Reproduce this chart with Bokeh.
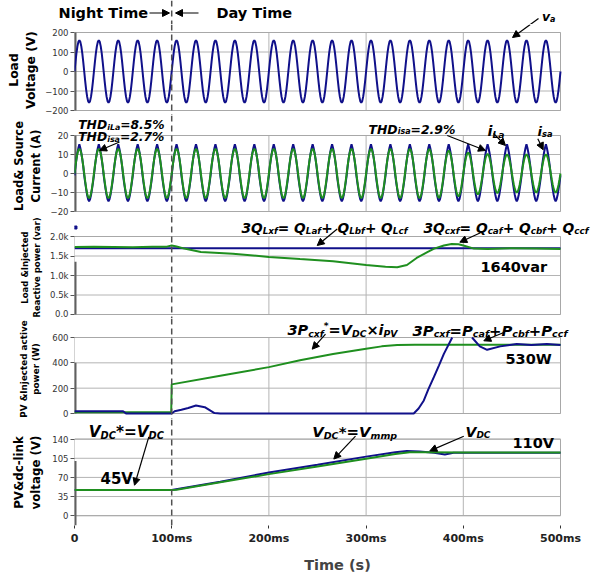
import numpy as np
from bokeh.plotting import figure
from bokeh.layouts import column
from bokeh.models import Range1d, FixedTicker, Span, Arrow, NormalHead, Label
from bokeh.embed import file_html
from bokeh.resources import INLINE

# ---------------- data ----------------
N_CYCLES = 25                    # 50 Hz over 0..500 ms
CYCLE_MS = 20
# one period of the load voltage v_a, 1 ms steps
VA_CYCLE = [0, 49, 94, 129, 152, 160, 152, 129, 94, 49,
            0, -49, -94, -129, -152, -160, -152, -129, -94, -49]
# one period of the load current i_La (peaky), 1 ms steps
ILA_CYCLE = [-1, 3.8, 7.6, 10.8, 13.4, 15.4, 13.4, 10.8, 7.6, 3.8,
             -1, -4.8, -8.2, -11.3, -13.6, -14.6, -13.6, -11.3, -8.2, -4.8]
# normalised period of the source current i_sa and its peak per cycle
ISA_SHAPE = [0, 0.31, 0.59, 0.81, 0.95, 1.0, 0.95, 0.81, 0.59, 0.31,
             0, -0.31, -0.59, -0.81, -0.95, -1.0, -0.95, -0.81, -0.59, -0.31]
ISA_PEAK = [13, 13, 13, 13, 13, 13, 13, 13, 13, 13, 13, 13, 13, 13, 13, 13,
            13, 13, 12.8, 12, 11, 10.3, 10, 10, 10]

# reactive power (var)
QL_T = [0, 500]
QL = [1700, 1700]
QL_SPIKE_T = [1]
QL_SPIKE = [2230]
QC_T = [0, 20, 40, 60, 80, 95, 100, 105, 113, 130, 163, 200, 232, 266, 300,
        320, 332, 342, 352, 363, 370, 380, 388, 395, 400, 411, 425, 450, 475, 500]
QC = [1730, 1735, 1728, 1722, 1735, 1740, 1770, 1745, 1690, 1600, 1560, 1475,
      1420, 1365, 1270, 1225, 1210, 1270, 1450, 1600, 1690, 1770, 1810, 1800,
      1770, 1690, 1680, 1700, 1690, 1680]

# active power (W)
PREF_T = [0, 99.5, 100, 150, 200, 232, 266, 300, 316, 332, 350, 400, 500]
PREF = [10, 10, 230, 298, 366, 420, 470, 511, 530, 540, 543, 543, 543]
PINJ_T = [0, 50, 53, 100, 103, 110, 117, 125, 134, 144, 150, 349, 354, 359.4,
          364, 369.7, 375, 380, 388.6, 398, 409, 417, 424.5, 438, 455, 470, 486, 500]
PINJ = [18, 18, 0, 0, 18, 30, 44, 63, 50, 3, 0, 0, 40, 103, 190, 287, 380, 471,
        600, float("nan"), 600, 530, 503, 530, 548, 540, 548, 540]

# dc-link voltage (V)
VREF_T = [0, 100, 150, 200, 250, 300, 330, 342, 355, 370, 381, 390, 400, 450, 500]
VREF = [47, 47, 62, 79, 93, 108, 116, 118.5, 117.5, 115, 112, 115, 115, 115, 115]
VDC_T = [0, 100, 105, 150, 200, 250, 300, 330, 345, 360, 400, 450, 500]
VDC = [47, 47, 47.5, 61, 76, 90, 104, 113, 116, 116, 115.5, 115.5, 115.5]

X_TICKS = [0, 100, 200, 300, 400, 500]
X_TICK_LABELS = ["0", "100ms", "200ms", "300ms", "400ms", "500ms"]
X_GRID = [200, 300, 400]

PANEL_LO = [-200, -20, 0, 0, 0]
PANEL_HI = [200, 20, 2000, 600, 140]
Y_TICKS = [[-200, -100, 0, 100, 200], [-20, -10, 0, 10, 20],
           [0, 500, 1000, 1500, 2000], [0, 200, 400, 600], [0, 35, 70, 105, 140]]
Y_TICK_LABELS = [None, None, ["0.0", "0.5k", "1.0k", "1.5k", "2.0k"], None, None]
Y_LABELS = ["Load\nVoltage (V)", "Load& Source\nCurrent (A)",
            "Load &Injected\nReactive power (var)", "PV &Injected active\npower (W)",
            "PV&dc-link\nvoltage (V)"]

# ---------------- layout ----------------
W = 605
LEFT, RIGHT_FRAME = 74, 600
X0_PX, X500_PX = 74, 560
HEADER_H = 24
FRAME_TOP = [HEADER_H, 115, 216, 318, 419]
FRAME_BOT = [115, 216, 318, 419, 527]
PANEL_TOP_PX = [32, 135, 236, 337, 439]
PANEL_BOT_PX = [110, 211, 314, 413, 517]
LABEL_CENTER_PX = [71, 166, 267, 368.5, 483]   # where each y-axis title is centred
LABEL_SIZE = ["12.3px", "11.5px", "8.5px", "8.8px", "11.8px"]
LABEL_STANDOFF = [4, 5, 5, 8, 6]
AXIS_DARK = [(-200, 200), (-20, 20), (0, 1350), (0, 400), (-18, 100)]
BOTTOM_AXIS = 48

BLUE = "#10108a"
GREEN = "#1f8f1f"
GRID = "#b4b4b4"
FONT = "DejaVu Sans"

MS_PER_PX = 500 / (X500_PX - X0_PX)
x_range = Range1d(0, (RIGHT_FRAME - LEFT) * MS_PER_PX)
dash = dict(location=100, dimension="height", line_color="#505050",
            line_dash="6 4", line_width=1.5)

# header strip (full-width frame so its texts are not clipped)
header = figure(width=W, height=HEADER_H, output_backend="svg", toolbar_location=None,
                x_range=Range1d(-X0_PX * MS_PER_PX, (W - X0_PX) * MS_PER_PX),
                y_range=Range1d(0, HEADER_H), x_axis_location=None, y_axis_location=None,
                min_border=0)
header.frame_align = False
header.outline_line_color = None
header.grid.visible = False
header.add_layout(Span(**dash))

figs = []
yr = []
for i in range(5):
    s = (PANEL_HI[i] - PANEL_LO[i]) / (PANEL_BOT_PX[i] - PANEL_TOP_PX[i])
    y0 = PANEL_LO[i] - (FRAME_BOT[i] - PANEL_BOT_PX[i]) * s
    y1 = PANEL_HI[i] + (PANEL_TOP_PX[i] - FRAME_TOP[i]) * s
    yr.append((y0, y1))
    h = FRAME_BOT[i] - FRAME_TOP[i] + (BOTTOM_AXIS if i == 4 else 0)
    p = figure(width=W, height=h, x_range=x_range, y_range=Range1d(y0, y1),
               output_backend="svg", toolbar_location=None,
               x_axis_location=("below" if i == 4 else None),
               min_border_left=LEFT, min_border_right=W - RIGHT_FRAME,
               min_border_top=0, min_border_bottom=(BOTTOM_AXIS if i == 4 else 0))
    p.outline_line_color = None
    p.grid.visible = False
    p.background_fill_color = "white"
    p.border_fill_color = "white"
    ya = p.yaxis[0]
    ya.ticker = FixedTicker(ticks=Y_TICKS[i])
    if Y_TICK_LABELS[i]:
        ya.major_label_overrides = {t: l for t, l in zip(Y_TICKS[i], Y_TICK_LABELS[i])}
    # axis extent chosen so that the axis title is centred where the reference has it
    half = min(LABEL_CENTER_PX[i] - FRAME_TOP[i], FRAME_BOT[i] - LABEL_CENTER_PX[i])
    b_top = y1 - (LABEL_CENTER_PX[i] - half - FRAME_TOP[i]) * s
    b_bot = y1 - (LABEL_CENTER_PX[i] + half - FRAME_TOP[i]) * s
    ya.bounds = (min(b_bot, PANEL_LO[i]), max(b_top, PANEL_HI[i]))
    ya.axis_line_color = None
    ya.minor_tick_line_color = None
    ya.major_tick_out = 4
    ya.major_tick_in = 0
    ya.major_tick_line_color = "#555555"
    ya.major_label_standoff = 2
    ya.major_label_text_font = FONT
    ya.major_label_text_font_size = "8.5px"
    ya.major_label_text_color = "#333333"
    ya.axis_label = Y_LABELS[i]
    ya.axis_label_text_font = FONT
    ya.axis_label_text_font_style = "bold"
    ya.axis_label_text_font_size = LABEL_SIZE[i]
    ya.axis_label_text_color = "black"
    ya.axis_label_standoff = LABEL_STANDOFF[i]
    # grid lines and panel frame
    p.segment(x0=[0] * len(Y_TICKS[i]), x1=[500] * len(Y_TICKS[i]),
              y0=Y_TICKS[i], y1=Y_TICKS[i], line_color=GRID, line_width=1)
    p.segment(x0=X_GRID, x1=X_GRID, y0=[PANEL_LO[i]] * len(X_GRID),
              y1=[PANEL_HI[i]] * len(X_GRID), line_color=GRID, line_width=1)
    p.quad(left=[0], right=[500], bottom=[PANEL_LO[i]], top=[PANEL_HI[i]],
           fill_color=None, line_color="#a8a8a8", line_width=1)
    lo, hi = AXIS_DARK[i]
    p.segment(x0=[0], x1=[0], y0=[lo], y1=[hi], line_color="#606060", line_width=4)
    p.add_layout(Span(**dash))
    figs.append(p)

xa = figs[4].xaxis[0]
xa.ticker = FixedTicker(ticks=X_TICKS)
xa.major_label_overrides = {t: l for t, l in zip(X_TICKS, X_TICK_LABELS)}
xa.bounds = (0, 500)
xa.axis_line_color = None
xa.minor_tick_line_color = None
xa.major_tick_out = 3
xa.major_tick_in = 0
xa.major_tick_line_color = "#333333"
xa.major_label_standoff = 3
xa.major_label_text_font = FONT
xa.major_label_text_font_style = "bold"
xa.major_label_text_font_size = "11px"
xa.major_label_text_color = "#222222"
xa.axis_label = "Time (s)"
xa.axis_label_text_font = FONT
xa.axis_label_text_font_style = "bold"
xa.axis_label_text_font_size = "14.5px"
xa.axis_label_standoff = 9

# ---------------- series ----------------
t_wave = np.arange(N_CYCLES * CYCLE_MS + 1)
va = np.array(VA_CYCLE * N_CYCLES + VA_CYCLE[:1], dtype=float)
ila = np.array(ILA_CYCLE * N_CYCLES + ILA_CYCLE[:1], dtype=float)
isa = np.concatenate([np.array(ISA_SHAPE) * pk for pk in ISA_PEAK] + [np.array([0.0])])

figs[0].line(t_wave, va, line_color=BLUE, line_width=2)
figs[1].line(t_wave, ila, line_color=BLUE, line_width=2)
figs[1].line(t_wave, isa, line_color=GREEN, line_width=2)
figs[2].line(QL_T, QL, line_color=BLUE, line_width=2)
figs[2].scatter(QL_SPIKE_T, QL_SPIKE, marker="square", size=3, color=BLUE)
figs[2].line(QC_T, QC, line_color=GREEN, line_width=2)
figs[3].line(PREF_T, PREF, line_color=GREEN, line_width=2)
figs[3].line(PINJ_T, PINJ, line_color=BLUE, line_width=2)
figs[4].line(VREF_T, VREF, line_color=BLUE, line_width=2)
figs[4].line(VDC_T, VDC, line_color=GREEN, line_width=2)

# ---------------- annotations ----------------
def target(i):
    return header if i < 0 else figs[i]

def to_data(i, xp, yp):
    xd = (xp - X0_PX) * MS_PER_PX
    if i < 0:
        return xd, HEADER_H - yp
    y0, y1 = yr[i]
    yd = y1 - (yp - FRAME_TOP[i]) * (y1 - y0) / (FRAME_BOT[i] - FRAME_TOP[i])
    return xd, yd

WIDTHS = {"0": .696, "1": .696, "2": .696, "3": .696, "4": .696, "5": .696, "6": .696,
          "7": .696, "8": .696, "9": .696, "Q": .850, "L": .637, "x": .645, "f": .435,
          "=": .838, "+": .838, "a": .675, "b": .716, "c": .593, "P": .733, "*": .523,
          "V": .774, "D": .830, "C": .734, "×": .838, "i": .343, "p": .716, "m": 1.042,
          "T": .682, "H": .837, "%": 1.002, ".": .380, "s": .595, "W": 1.103,
          "r": .493, "v": .652, " ": .348}

def tw(s, size):
    return sum(WIDTHS.get(c, .65) for c in s) * size

SUB = 0.64

def rich(i, x_left, base, width, segs):
    natural = sum(tw(t, SUB if k != "n" else 1.0) for t, k in segs)
    size = width / natural
    x = x_left
    for t, k in segs:
        fs = size * (SUB if k != "n" else 1.0)
        dy = 0.22 * size if k == "sub" else (-0.3 * size if k == "sup" else 0)
        xd, yd = to_data(i, x, base + dy)
        target(i).add_layout(Label(x=xd, y=yd, text=t, text_font=FONT,
                                   text_font_style="bold italic", text_font_size=f"{fs:.1f}px",
                                   text_baseline="alphabetic", text_align="left",
                                   text_color="black"))
        x += tw(t, fs)

def plain(i, x_left, mid, size, t):
    xd, yd = to_data(i, x_left, mid)
    target(i).add_layout(Label(x=xd, y=yd, text=t, text_font=FONT, text_font_style="bold",
                               text_font_size=size, text_baseline="middle",
                               text_align="left", text_color="black"))

def arrow(i, xs, ys, xe, ye, head=True):
    a0, b0 = to_data(i, xs, ys)
    a1, b1 = to_data(i, xe, ye)
    end = NormalHead(size=7, fill_color="black", line_color="black", line_width=1) if head else None
    target(i).add_layout(Arrow(end=end, x_start=a0, y_start=b0, x_end=a1, y_end=b1,
                               line_color="black", line_width=1.2))

plain(-1, 58, 12.5, "14.5px", "Night Time")
plain(-1, 216, 12.5, "14.5px", "Day Time")
arrow(-1, 149, 12.5, 169, 12.5)
arrow(-1, 198, 12.5, 175, 12.5)
rich(-1, 541.5, 16, 13.5, [("v", "n"), ("a", "sub")])
arrow(-1, 538, 18, 529.8, 24, head=False)
arrow(0, 529.8, 24, 512, 37)

rich(1, 77.7, 124, 86.6, [("THD", "n"), ("iLa", "sub"), ("=8.5%", "n")])
rich(1, 77.7, 136.5, 86.3, [("THD", "n"), ("isa", "sub"), ("=2.7%", "n")])
arrow(1, 119, 141.5, 99, 150)
rich(1, 368, 128.5, 87, [("THD", "n"), ("isa", "sub"), ("=2.9%", "n")])
arrow(1, 446.7, 135, 485, 150)
rich(1, 487, 130.5, 17, [("i", "n"), ("La", "sub")])
arrow(1, 493, 133, 505, 145)
rich(1, 537, 130.5, 15, [("i", "n"), ("sa", "sub")])
arrow(1, 537.3, 138.3, 542.7, 149.3)

rich(2, 241, 227, 166, [("3Q", "n"), ("Lxf", "sub"), ("= Q", "n"), ("Laf", "sub"),
                        ("+ Q", "n"), ("Lbf", "sub"), ("+ Q", "n"), ("Lcf", "sub")])
arrow(2, 336.7, 228.5, 316.7, 245)
rich(2, 423, 227, 165, [("3Q", "n"), ("cxf", "sub"), ("= Q", "n"), ("caf", "sub"),
                        ("+ Q", "n"), ("cbf", "sub"), ("+ Q", "n"), ("ccf", "sub")])
arrow(2, 480, 232.3, 459.3, 241.7)
plain(2, 480, 266.7, "14.5px", "1640var")

rich(3, 287, 329.5, 110, [("3P", "n"), ("cxf", "sub"), ("*", "sup"), ("=V", "n"),
                          ("DC", "sub"), ("×i", "n"), ("PV", "sub")])
arrow(3, 325, 333.7, 311.7, 348.7)
rich(3, 412, 329.5, 155, [("3P", "n"), ("cxf", "sub"), ("=P", "n"), ("caf", "sub"),
                          ("+P", "n"), ("cbf", "sub"), ("+P", "n"), ("ccf", "sub")])
arrow(3, 503.3, 332, 483.3, 340.3)
plain(3, 505, 358.3, "14.5px", "530W")

rich(4, 88.3, 431.7, 75, [("V", "n"), ("DC", "sub"), ("*=V", "n"), ("DC", "sub")])
arrow(4, 148.3, 436.7, 134, 486)
plain(4, 100, 479.3, "15px", "45V")
rich(4, 311.7, 431.7, 85, [("V", "n"), ("DC", "sub"), ("*=V", "n"), ("mmp", "sub")])
arrow(4, 355, 436, 333.3, 459.3)
rich(4, 465, 431.7, 25, [("V", "n"), ("DC", "sub")])
arrow(4, 463.3, 436, 429.3, 451)
plain(4, 512, 443.3, "14.5px", "110V")

layout = column(header, *figs, spacing=0)
open("out.html", "w").write(file_html(layout, INLINE))
